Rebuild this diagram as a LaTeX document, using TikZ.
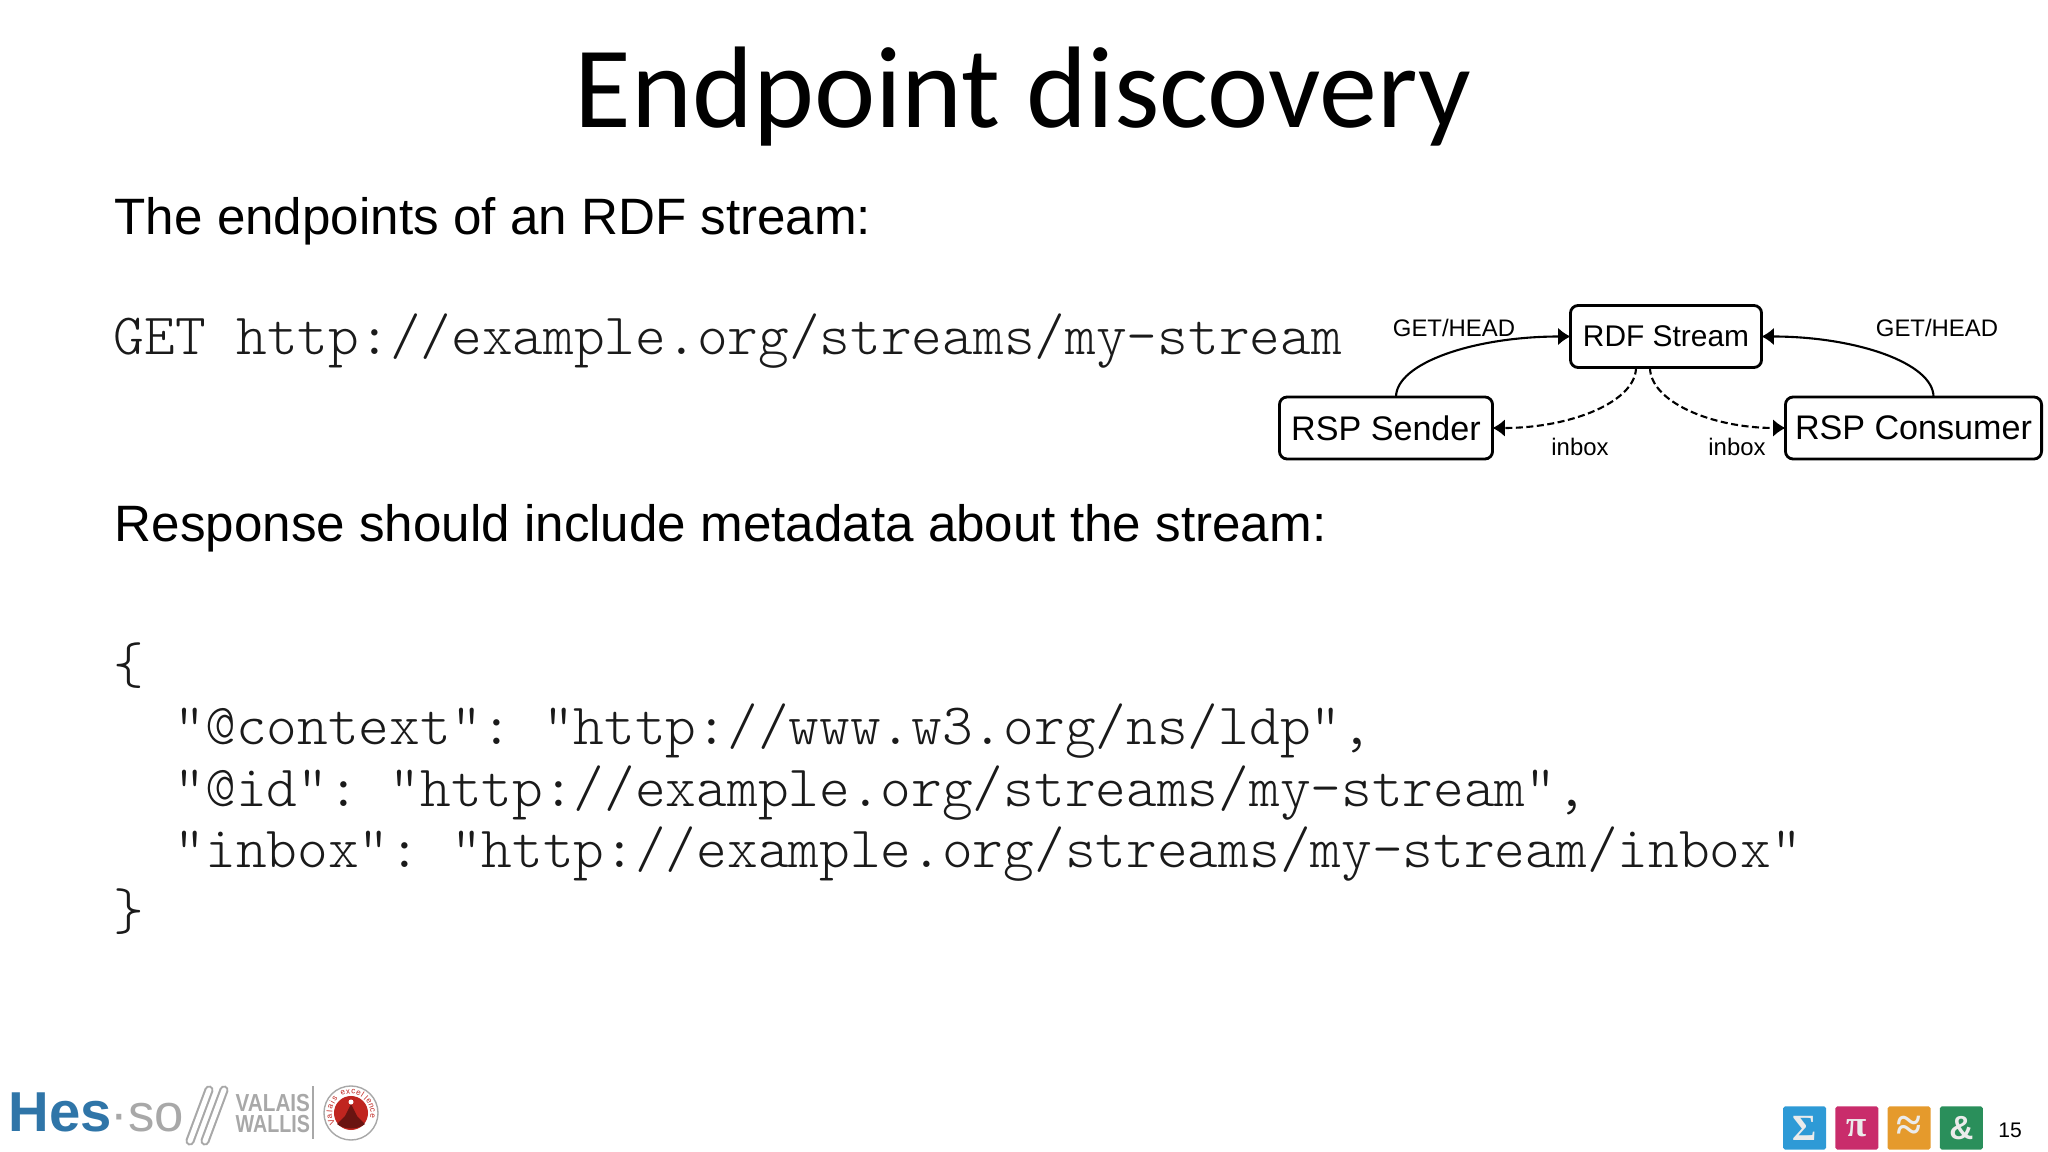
\documentclass[tikz,border=0pt]{standalone}
\usepackage{fontspec}
\setmainfont{Liberation Sans}
\setmonofont{Latin Modern Mono Light}
\newfontfamily\titlefont{Carlito}
\newfontfamily\tilefont{Liberation Serif}
\usetikzlibrary{arrows.meta}
\definecolor{codegray}{HTML}{1A1A1A}
\definecolor{hesblue}{HTML}{2F75A8}
\definecolor{hesgray}{HTML}{A8A8A8}
\definecolor{sumblue}{HTML}{2E9AD6}
\definecolor{pimagenta}{HTML}{C92C6B}
\definecolor{approxorange}{HTML}{E59A2C}
\definecolor{andgreen}{HTML}{2A8F5B}
\definecolor{badgered}{HTML}{C0251F}
\begin{document}
\begin{tikzpicture}[x=0.01cm,y=-0.01cm]
  \tikzset{bodytext/.style={anchor=base west,inner sep=0pt,font=\fontsize{14.55pt}{14.55pt}\selectfont}}
  \tikzset{codetext/.style={anchor=base west,inner sep=0pt,text=codegray,font=\ttfamily\fontsize{16.63pt}{16.63pt}\selectfont}}
  \tikzset{boxnode/.style={draw,thick,rounded corners=2.2pt,minimum height=0.62cm,inner sep=0pt,outer sep=0pt,font=\fontsize{8.5pt}{8.5pt}\selectfont}}
  \tikzset{bigbox/.style={boxnode,font=\fontsize{9.7pt}{9.7pt}\selectfont}}
  \tikzset{edgelabel/.style={inner sep=0pt,font=\fontsize{6.8pt}{6.8pt}\selectfont}}
  \tikzset{pull/.style={semithick,-{Latex[length=3.5pt,width=5pt]}}}
  \tikzset{push/.style={pull,dash pattern=on 2pt off 1pt}}
  \tikzset{tile/.style={minimum size=0.43cm,inner sep=0pt,rounded corners=0.5pt,text=white!92!black,font=\tilefont\fontsize{10.5pt}{10.5pt}\selectfont\bfseries}}
  \tikzset{logotext/.style={anchor=base west,inner sep=0pt}}
  \useasboundingbox (0,0) rectangle (2048,1152);
  \node[inner sep=0pt,anchor=base,font=\titlefont\fontsize{33pt}{33pt}\selectfont] (title) at (1023,128) {Endpoint discovery};
  \node[bodytext] (intro) at (114,235) {The endpoints of an RDF stream:};
  \node[codetext] (getline) at (113,355) {GET http://example.org/streams/my-stream};
  \node[bodytext] (response) at (114,542) {Response should include metadata about the stream:};
  \node[codetext] (openbrace) at (113,683) {\{};
  \node[codetext] (contextline) at (174,744) {"@context": "http://www.w3.org/ns/ldp",};
  \node[codetext] (idline) at (174,806) {"@id": "http://example.org/streams/my-stream",};
  \node[codetext] (inboxline) at (174,867) {"inbox": "http://example.org/streams/my-stream/inbox"};
  \node[codetext] (closebrace) at (113,929) {\}};
  % diagram
  \node[boxnode,minimum width=1.91cm] (rdfstream) at (1666,336.5) {RDF Stream};
  \node[bigbox,minimum width=2.13cm] (rspsender) at (1386,428) {RSP Sender};
  \node[bigbox,minimum width=2.56cm] (rspconsumer) at (1913.5,428) {RSP Consumer};
  \draw[pull] ([xshift=0.1cm]rspsender.north) .. controls +(0,-34) and +(-96,0) .. (rdfstream.west);
  \draw[pull] ([xshift=0.2cm]rspconsumer.north) .. controls +(0,-34) and +(94,0) .. (rdfstream.east);
  \draw[push] ([xshift=-0.3cm]rdfstream.south) .. controls +(0,34) and +(79,0) .. (rspsender.east);
  \draw[push] ([xshift=-0.16cm]rdfstream.south) .. controls +(0,34) and +(-74,0) .. (rspconsumer.west);
  \node[edgelabel] (getsender) at (1454,328) {GET/HEAD};
  \node[edgelabel] (getconsumer) at (1937,328) {GET/HEAD};
  \node[edgelabel] (inboxsender) at (1580,447) {inbox};
  \node[edgelabel] (inboxconsumer) at (1737,447) {inbox};
  % footer
  \node[logotext,text=hesblue,font=\bfseries\fontsize{16pt}{16pt}\selectfont] (hes) at (8,1131) {Hes};
  \node[logotext,text=hesgray,font=\fontsize{15pt}{15pt}\selectfont] (so) at (110,1131) {·so};
  \draw[hesgray,line width=2.6pt,line cap=round] (190,1141) -- (209,1090);
  \draw[white,line width=1.4pt,line cap=round] (190,1141) -- (209,1090);
  \draw[hesgray,line width=2.6pt,line cap=round] (205,1141) -- (224,1090);
  \draw[white,line width=1.4pt,line cap=round] (205,1141) -- (224,1090);
  \node[logotext,text=hesgray,font=\bfseries\fontsize{7pt}{7pt}\selectfont] (valais) at (235,1111) {\scalebox{.84}[1]{VALAIS}};
  \node[logotext,text=hesgray,font=\bfseries\fontsize{7pt}{7pt}\selectfont] (wallis) at (235,1132) {\scalebox{.8}[1]{WALLIS}};
  \draw[hesgray,thin] (313,1086) -- (313,1139);
  \coordinate (badge) at (351,1113);
  \draw[hesgray,fill=white,thin] (badge) circle (0.27cm);
  \fill[badgered] (badge) circle (0.17cm);
  \fill[badgered!55!black] (337,1124) -- (345,1116) -- (351,1104) -- (357,1116) -- (365,1124) .. controls (358,1130) and (344,1130) .. (337,1124);
  \fill[white] (351,1102) circle (0.025cm);
  \foreach \letter/\ang in {V/205,a/190,l/176,a/162,i/150,s/138,e/112,x/98,c/84,e/70,l/57,l/46,e/34,n/20,c/6,e/-8}
    \node[inner sep=0pt,text=badgered,rotate=\ang-90,font=\fontsize{2.3pt}{2.3pt}\selectfont] (ring\ang) at ([shift={(\ang:0.215cm)}]badge) {\letter};
  \node[tile,fill=sumblue] (sigma) at (1804.7,1128) {Σ};
  \node[tile,fill=pimagenta] (pi) at (1856.8,1128) {π};
  \node[tile,fill=approxorange,font=\tilefont\fontsize{13pt}{13pt}\selectfont\bfseries] (approx) at (1909,1128) {≈};
  \node[tile,fill=andgreen,font=\fontsize{9.5pt}{9.5pt}\selectfont\bfseries] (amp) at (1961.4,1128) {\&};
  \node[inner sep=0pt,font=\fontsize{6pt}{6pt}\selectfont] (pagenum) at (2010,1130) {15};
\end{tikzpicture}
\end{document}
